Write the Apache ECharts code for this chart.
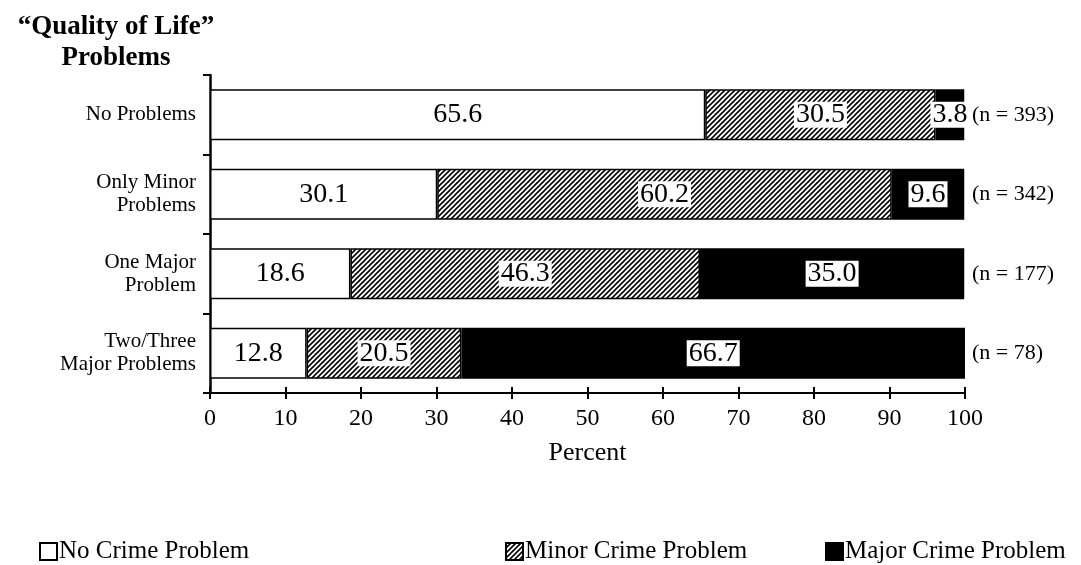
<!DOCTYPE html>
<html>
<head>
<meta charset="utf-8">
<script src="https://cdn.jsdelivr.net/npm/echarts@6/dist/echarts.min.js"></script>
<style>
  html, body { margin: 0; padding: 0; background: #fff; }
  #myChart { width: 1081px; height: 565px; }
</style>
</head>
<body>
<div id="myChart"></div>
<script>
// data
var categories = ["No Problems", "Only Minor\nProblems", "One Major\nProblem", "Two/Three\nMajor Problems"];
var sampleSizes = ["(n = 393)", "(n = 342)", "(n = 177)", "(n = 78)"];
var seriesNames = ["No Crime Problem", "Minor Crime Problem", "Major Crime Problem"];
var noCrime = [65.6, 30.1, 18.6, 12.8];
var minorCrime = [30.5, 60.2, 46.3, 20.5];
var majorCrime = [3.8, 9.6, 35.0, 66.7];
var xTicks = [0, 10, 20, 30, 40, 50, 60, 70, 80, 90, 100];

var serif = "Liberation Serif";

// diagonal hatch for the minor crime bars
function makeHatch() {
  var c = document.createElement("canvas");
  c.width = 5;
  c.height = 5;
  var ctx = c.getContext("2d");
  ctx.fillStyle = "#fff";
  ctx.fillRect(0, 0, 5, 5);
  ctx.strokeStyle = "#000";
  ctx.lineWidth = 1.6;
  ctx.beginPath();
  ctx.moveTo(-1, 6); ctx.lineTo(6, -1);
  ctx.moveTo(-1, 1); ctx.lineTo(1, -1);
  ctx.moveTo(4, 6); ctx.lineTo(6, 4);
  ctx.stroke();
  return c;
}

var myChart = echarts.init(document.getElementById("myChart"));

var fills = ["#ffffff", { image: makeHatch(), repeat: "repeat" }, "#000000"];
var values = [noCrime, minorCrime, majorCrime];

var series = seriesNames.map(function (name, i) {
  return {
    name: name,
    type: "bar",
    stack: "total",
    barWidth: 51,
    itemStyle: { color: fills[i], borderColor: "#000", borderWidth: 1.5 },
    label: {
      show: true,
      position: "inside",
      color: "#000",
      fontFamily: serif,
      fontSize: 28,
      backgroundColor: i === 0 ? "transparent" : "#fff",
      padding: [0, 2, -2, 2],
      formatter: function (p) { return p.value.toFixed(1); }
    },
    data: values[i]
  };
});

var option = {
  animation: false,
  backgroundColor: "#fff",
  title: {
    text: "\u201CQuality of Life\u201D\nProblems",
    left: 111,
    top: 7,
    textAlign: "center",
    textStyle: {
      fontFamily: serif,
      fontSize: 27,
      fontWeight: "bold",
      color: "#000",
      lineHeight: 31
    }
  },
  grid: { left: 210, right: 116, top: 75, bottom: 172 },
  legend: [0, 1, 2].map(function (i) {
    return {
      data: [seriesNames[i]],
      left: [34, 500, 820][i],
      top: 534,
      itemWidth: 17,
      itemHeight: 17,
      itemGap: 4,
      icon: "rect",
      textStyle: { fontFamily: serif, fontSize: 25, color: "#000", padding: [0, 0, 0, -3] }
    };
  }),
  xAxis: [
    {
      type: "value",
      min: 0,
      max: 100,
      interval: 10,
      name: "Percent",
      nameLocation: "middle",
      nameGap: 47,
      nameTextStyle: { fontFamily: serif, fontSize: 26, color: "#000" },
      axisLine: { show: true, lineStyle: { color: "#000", width: 2 } },
      axisTick: { show: true, length: 6, lineStyle: { color: "#000", width: 2 } },
      axisLabel: {
        fontFamily: serif, fontSize: 24, color: "#000", margin: 14,
        formatter: function (v) { return xTicks.indexOf(v) >= 0 ? String(v) : ""; }
      },
      splitLine: { show: false }
    },
    {
      type: "value",
      min: 0,
      max: 100,
      interval: 10,
      position: "bottom",
      axisLine: { show: false },
      axisTick: { show: true, inside: true, length: 6, lineStyle: { color: "#000", width: 2 } },
      axisLabel: { show: false },
      splitLine: { show: false }
    }
  ],
  yAxis: [
    {
      type: "category",
      inverse: true,
      data: categories,
      axisLine: { show: true, lineStyle: { color: "#000", width: 2.5 } },
      axisTick: { show: true, length: 7, lineStyle: { color: "#000", width: 2 } },
      axisLabel: {
        fontFamily: serif, fontSize: 21, color: "#000", margin: 14,
        lineHeight: 23, align: "right"
      }
    },
    {
      type: "category",
      inverse: true,
      position: "right",
      data: sampleSizes,
      axisLine: { show: false },
      axisTick: { show: false },
      axisLabel: { fontFamily: serif, fontSize: 22, color: "#000", margin: 7 }
    }
  ],
  series: series
};

myChart.setOption(option);
</script>
</body>
</html>
